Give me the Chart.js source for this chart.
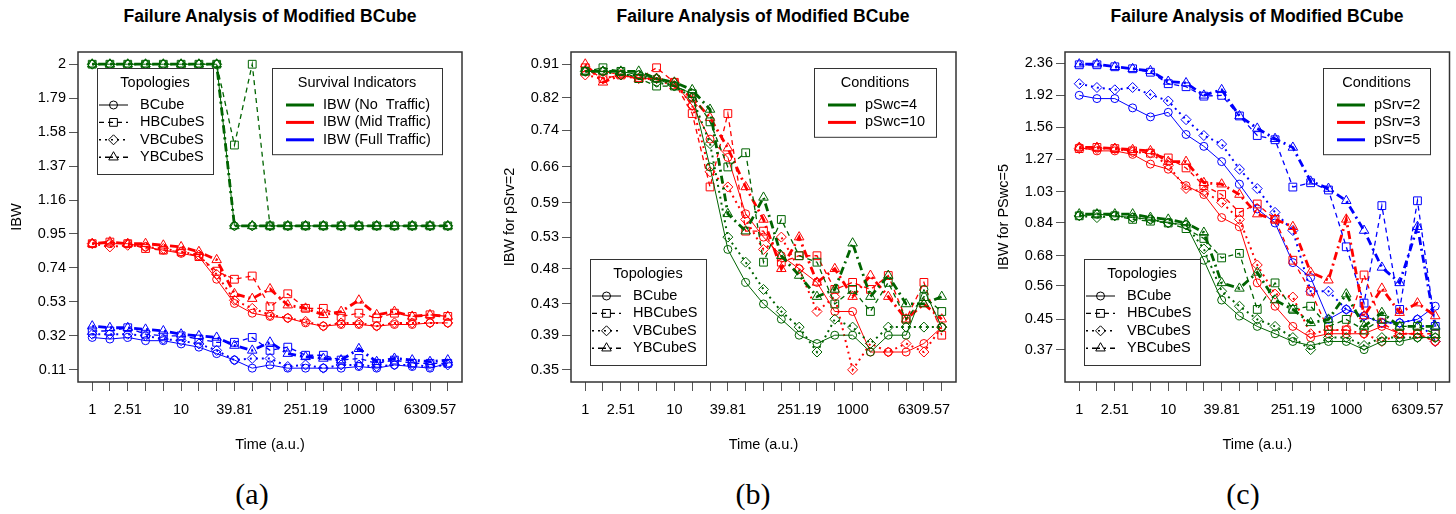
<!DOCTYPE html>
<html>
<head>
<meta charset="utf-8">
<script src="https://cdn.jsdelivr.net/npm/chart.js@4.4.1/dist/chart.umd.min.js"></script>
<style>
  body { margin: 0; background: #fff; width: 1456px; height: 514px; position: relative; overflow: hidden;
         font-family: Arial, "Liberation Sans", sans-serif; }
  canvas { position: absolute; top: 0; }
  .title { position: absolute; top: 6px; font-weight: bold; font-size: 17.5px; white-space: nowrap; transform: translateX(-50%); }
  .tag { position: absolute; top: 477px; font-family: "Liberation Serif", "Times New Roman", serif; font-size: 30px; transform: translateX(-50%); }
</style>
</head>
<body>
<div class="title" style="left:270px">Failure Analysis of Modified BCube</div>
<div class="title" style="left:763px">Failure Analysis of Modified BCube</div>
<div class="title" style="left:1257px">Failure Analysis of Modified BCube</div>
<canvas id="chartA" width="480" height="460" style="left:0px"></canvas>
<canvas id="chartB" width="481" height="460" style="left:493px"></canvas>
<canvas id="chartC" width="469" height="460" style="left:987px"></canvas>
<div class="tag" style="left:252px">(a)</div>
<div class="tag" style="left:753px">(b)</div>
<div class="tag" style="left:1243px">(c)</div>

<script>
// time axis (log scale), 21 sample points
const timePoints = [1, 1.58, 2.51, 3.98, 6.31, 10, 15.85, 25.12, 39.81, 63.1, 100, 158.49,
  251.19, 398.11, 630.96, 1000, 1584.89, 2511.89, 3981.07, 6309.57, 10000];
const timeTickLabels = ['1', '', '2.51', '', '', '10', '', '', '39.81', '', '', '',
  '251.19', '', '', '1000', '', '', '', '6309.57', ''];

const topologies = ['BCube', 'HBCubeS', 'VBCubeS', 'YBCubeS'];

// y ticks of each panel
const yTicksA = [0.11, 0.32, 0.53, 0.74, 0.95, 1.16, 1.37, 1.58, 1.79, 2];
const yTicksB = [0.35, 0.39, 0.43, 0.48, 0.53, 0.59, 0.66, 0.74, 0.82, 0.91];
const yTicksC = [0.37, 0.45, 0.56, 0.68, 0.84, 1.03, 1.27, 1.56, 1.92, 2.36];

// panel (a): rows = BCube, HBCubeS, VBCubeS, YBCubeS
const aNoTraffic = [
  [2, 2, 2, 2, 2, 2, 2, 2, 1, 1, 1, 1, 1, 1, 1, 1, 1, 1, 1, 1, 1],
  [2, 2, 2, 2, 2, 2, 2, 2, 1.5, 2, 1, 1, 1, 1, 1, 1, 1, 1, 1, 1, 1],
  [2, 2, 2, 2, 2, 2, 2, 2, 1, 1, 1, 1, 1, 1, 1, 1, 1, 1, 1, 1, 1],
  [2, 2, 2, 2, 2, 2, 2, 2, 1, 1, 1, 1, 1, 1, 1, 1, 1, 1, 1, 1, 1]
];
const aMidTraffic = [
  [0.89, 0.89, 0.89, 0.87, 0.85, 0.83, 0.81, 0.67, 0.52, 0.46, 0.44, 0.43, 0.40, 0.38, 0.39, 0.39, 0.38, 0.39, 0.39, 0.40, 0.40],
  [0.89, 0.90, 0.89, 0.86, 0.85, 0.84, 0.81, 0.72, 0.67, 0.69, 0.50, 0.58, 0.49, 0.49, 0.44, 0.46, 0.43, 0.46, 0.44, 0.45, 0.44],
  [0.89, 0.87, 0.88, 0.87, 0.86, 0.84, 0.82, 0.70, 0.54, 0.49, 0.45, 0.43, 0.41, 0.38, 0.40, 0.40, 0.38, 0.40, 0.40, 0.40, 0.40],
  [0.89, 0.90, 0.89, 0.89, 0.88, 0.87, 0.84, 0.79, 0.58, 0.55, 0.61, 0.51, 0.49, 0.45, 0.47, 0.54, 0.45, 0.47, 0.44, 0.45, 0.44]
];
const aFullTraffic = [
  [0.31, 0.30, 0.31, 0.29, 0.29, 0.27, 0.25, 0.21, 0.17, 0.12, 0.14, 0.12, 0.12, 0.12, 0.12, 0.13, 0.12, 0.14, 0.13, 0.12, 0.15],
  [0.35, 0.35, 0.37, 0.33, 0.32, 0.32, 0.30, 0.28, 0.28, 0.31, 0.23, 0.25, 0.20, 0.20, 0.17, 0.18, 0.15, 0.17, 0.15, 0.15, 0.15],
  [0.33, 0.33, 0.33, 0.32, 0.30, 0.29, 0.27, 0.23, 0.17, 0.18, 0.18, 0.13, 0.14, 0.12, 0.14, 0.14, 0.13, 0.14, 0.14, 0.13, 0.14],
  [0.38, 0.37, 0.37, 0.36, 0.35, 0.33, 0.32, 0.31, 0.26, 0.23, 0.28, 0.21, 0.19, 0.18, 0.17, 0.24, 0.16, 0.18, 0.17, 0.16, 0.17]
];

// panel (b): IBW for pSrv=2
const bSwc4 = [
  [0.89, 0.89, 0.89, 0.88, 0.87, 0.85, 0.83, 0.66, 0.51, 0.46, 0.43, 0.41, 0.39, 0.38, 0.39, 0.39, 0.37, 0.39, 0.39, 0.45, 0.40],
  [0.89, 0.90, 0.89, 0.87, 0.85, 0.85, 0.83, 0.76, 0.66, 0.69, 0.49, 0.56, 0.50, 0.49, 0.43, 0.45, 0.42, 0.46, 0.41, 0.44, 0.42],
  [0.89, 0.89, 0.88, 0.88, 0.86, 0.85, 0.82, 0.71, 0.53, 0.49, 0.45, 0.42, 0.40, 0.37, 0.41, 0.40, 0.38, 0.40, 0.40, 0.40, 0.40],
  [0.89, 0.89, 0.89, 0.89, 0.87, 0.86, 0.84, 0.79, 0.57, 0.54, 0.60, 0.50, 0.47, 0.44, 0.45, 0.52, 0.44, 0.47, 0.43, 0.43, 0.44]
];
const bSwc10 = [
  [0.89, 0.89, 0.88, 0.87, 0.87, 0.86, 0.80, 0.72, 0.68, 0.57, 0.53, 0.50, 0.48, 0.46, 0.42, 0.42, 0.37, 0.37, 0.37, 0.38, 0.40],
  [0.90, 0.87, 0.88, 0.87, 0.90, 0.86, 0.78, 0.62, 0.78, 0.54, 0.54, 0.49, 0.50, 0.50, 0.45, 0.46, 0.45, 0.47, 0.41, 0.46, 0.39],
  [0.88, 0.87, 0.88, 0.87, 0.87, 0.86, 0.80, 0.65, 0.62, 0.56, 0.51, 0.53, 0.48, 0.42, 0.44, 0.35, 0.38, 0.37, 0.38, 0.37, 0.40],
  [0.91, 0.86, 0.88, 0.87, 0.87, 0.85, 0.82, 0.77, 0.70, 0.62, 0.56, 0.48, 0.53, 0.46, 0.48, 0.44, 0.47, 0.44, 0.41, 0.43, 0.41]
];

// panel (c): IBW for PSwc=5
const cSrv2 = [
  [0.88, 0.89, 0.88, 0.87, 0.86, 0.84, 0.83, 0.66, 0.51, 0.46, 0.43, 0.41, 0.39, 0.38, 0.39, 0.39, 0.37, 0.39, 0.39, 0.40, 0.40],
  [0.88, 0.89, 0.88, 0.86, 0.85, 0.84, 0.81, 0.76, 0.67, 0.69, 0.48, 0.57, 0.48, 0.49, 0.43, 0.45, 0.42, 0.45, 0.43, 0.43, 0.41],
  [0.88, 0.87, 0.88, 0.87, 0.86, 0.84, 0.83, 0.71, 0.54, 0.49, 0.45, 0.43, 0.40, 0.37, 0.40, 0.40, 0.38, 0.40, 0.40, 0.40, 0.40],
  [0.89, 0.89, 0.89, 0.89, 0.87, 0.86, 0.84, 0.79, 0.57, 0.55, 0.61, 0.51, 0.48, 0.44, 0.45, 0.53, 0.43, 0.47, 0.43, 0.43, 0.43]
];
const cSrv3 = [
  [1.37, 1.34, 1.34, 1.31, 1.23, 1.19, 1.07, 1.01, 0.87, 0.82, 0.57, 0.49, 0.43, 0.40, 0.41, 0.41, 0.41, 0.43, 0.41, 0.41, 0.39],
  [1.36, 1.37, 1.36, 1.34, 1.32, 1.28, 1.20, 1.07, 1.01, 0.90, 0.95, 0.86, 0.66, 0.54, 0.42, 0.42, 0.60, 0.44, 0.41, 0.41, 0.41],
  [1.36, 1.36, 1.36, 1.33, 1.32, 1.22, 1.05, 1.03, 0.96, 0.86, 0.64, 0.53, 0.52, 0.41, 0.42, 0.42, 0.41, 0.39, 0.41, 0.41, 0.39],
  [1.37, 1.37, 1.36, 1.35, 1.34, 1.25, 1.25, 1.09, 1.08, 1.01, 0.89, 0.86, 0.82, 0.61, 0.58, 0.86, 0.46, 0.55, 0.47, 0.50, 0.46]
];
const cSrv5 = [
  [1.92, 1.88, 1.88, 1.77, 1.67, 1.72, 1.49, 1.38, 1.25, 1.08, 0.92, 0.84, 0.65, 0.59, 0.45, 0.48, 0.46, 0.44, 0.44, 0.45, 0.49],
  [2.34, 2.34, 2.31, 2.28, 2.23, 2.07, 2.03, 1.91, 1.92, 1.68, 1.48, 1.44, 1.06, 1.09, 1.04, 0.72, 0.50, 0.94, 0.48, 0.97, 0.43],
  [2.07, 2.02, 1.99, 2.02, 1.93, 1.85, 1.64, 1.48, 1.40, 1.19, 1.05, 0.90, 0.80, 0.54, 0.54, 0.48, 0.46, 0.44, 0.44, 0.45, 0.39],
  [2.35, 2.35, 2.31, 2.28, 2.25, 2.10, 2.08, 1.92, 1.99, 1.68, 1.55, 1.45, 1.37, 1.10, 1.05, 0.97, 0.80, 0.63, 0.57, 0.82, 0.43]
];

const GREEN = '#006400', RED = '#ff0000', BLUE = '#0000ff';

// line look of each topology (R lty 1..4)
const topoStyle = [
  { width: 1,   dash: [],           point: 'circle',   radius: 4 },
  { width: 1.3, dash: [5, 4],       point: 'rect',     radius: 5.5 },
  { width: 2,   dash: [2, 4],       point: 'rectRot',  radius: 5 },
  { width: 2.8, dash: [2, 4, 8, 4], point: 'triangle', radius: 5.5 }
];

function makeDatasets(rows, color) {
  return rows.map((vals, t) => {
    const st = topoStyle[t];
    return {
      label: topologies[t],
      data: vals.map((v, i) => ({ x: timePoints[i], y: v })),
      borderColor: color,
      borderWidth: st.width,
      borderDash: st.dash,
      pointStyle: st.point,
      pointRadius: st.radius,
      pointBorderColor: color,
      pointBorderWidth: 1,
      pointBackgroundColor: 'rgba(0,0,0,0)',
      fill: false,
      tension: 0
    };
  });
}

// box round the plot region
const framePlugin = {
  id: 'frame',
  afterDatasetsDraw(chart) {
    const { ctx, chartArea: a } = chart;
    ctx.save();
    ctx.strokeStyle = '#333';
    ctx.lineWidth = 1.5;
    ctx.strokeRect(a.left, a.top, a.right - a.left, a.bottom - a.top);
    ctx.restore();
  }
};

// R style legend boxes
const boxLegendPlugin = {
  id: 'boxLegends',
  afterDraw(chart, args, opts) {
    const ctx = chart.ctx;
    const off = opts.offset || 0;
    (opts.boxes || []).forEach(b => {
      const x = b.x - off;
      ctx.save();
      ctx.fillStyle = '#fff';
      ctx.fillRect(x, b.y, b.w, b.h);
      ctx.strokeStyle = '#333';
      ctx.lineWidth = 1;
      ctx.strokeRect(x + 0.5, b.y + 0.5, b.w, b.h);
      ctx.fillStyle = '#000';
      ctx.font = '14.5px Arial, "Liberation Sans", sans-serif';
      ctx.textBaseline = 'middle';
      ctx.textAlign = 'center';
      ctx.fillText(b.title, x + b.w / 2, b.y + 15);
      b.items.forEach((it, i) => {
        const y = b.y + 37 + i * 17.4;
        ctx.save();
        ctx.strokeStyle = it.color;
        ctx.lineWidth = it.width;
        ctx.setLineDash(it.dash || []);
        ctx.beginPath();
        ctx.moveTo(x + b.line0, y);
        ctx.lineTo(x + b.line1, y);
        ctx.stroke();
        ctx.restore();
        if (it.point) {
          ctx.save();
          ctx.fillStyle = 'rgba(0,0,0,0)';
          ctx.strokeStyle = it.color;
          ctx.lineWidth = 1;
          ctx.setLineDash([]);
          Chart.helpers.drawPoint(ctx, { pointStyle: it.point, radius: it.radius, borderWidth: 1 },
            x + (b.line0 + b.line1) / 2, y);
          ctx.restore();
        }
        ctx.fillStyle = '#000';
        ctx.textAlign = 'left';
        ctx.fillText(it.label, x + b.text, y);
      });
      ctx.restore();
    });
  }
};

function topologyBox(x, y) {
  return {
    x: x, y: y, w: 116, h: 106, title: 'Topologies', line0: 2, line1: 31, text: 43,
    items: topologies.map((name, t) => ({
      label: name, color: '#000', width: Math.min(topoStyle[t].width, 1.6), dash: topoStyle[t].dash,
      point: topoStyle[t].point, radius: topoStyle[t].radius
    }))
  };
}

function conditionBox(x, y, w, title, labels, colors) {
  return {
    x: x, y: y, w: w, h: 20 + labels.length * 17.4 + 14, title: title, line0: 14, line1: 42, text: 51,
    items: labels.map((l, i) => ({ label: l, color: colors[i], width: 3, dash: [] }))
  };
}

function makeChart(id, offset, rightPad, datasets, yType, yRange, yTicks, yTitle, boxes) {
  return new Chart(document.getElementById(id), {
    type: 'line',
    data: { datasets: datasets },
    options: {
      responsive: false,
      animation: false,
      devicePixelRatio: 1,
      layout: { padding: { left: 0, right: rightPad, top: 52, bottom: 0 } },
      plugins: {
        legend: { display: false },
        tooltip: { enabled: false },
        boxLegends: { offset: offset, boxes: boxes }
      },
      scales: {
        x: {
          type: 'logarithmic',
          min: 0.6918, max: 14454,
          afterBuildTicks: s => { s.ticks = timePoints.map(v => ({ value: v })); },
          afterFit: s => { s.height = 78; },
          ticks: {
            autoSkip: false, maxRotation: 0, minRotation: 0, padding: 10, color: '#000',
            font: { family: 'Arial, "Liberation Sans", sans-serif', size: 14.5 },
            callback: (v, i) => timeTickLabels[i]
          },
          grid: { drawOnChartArea: false, drawTicks: true, tickLength: 9, tickColor: '#555', lineWidth: 1 },
          border: { display: false },
          title: {
            display: true, text: 'Time (a.u.)', color: '#000',
            font: { family: 'Arial, "Liberation Sans", sans-serif', size: 14.5 },
            padding: { top: 0, bottom: 6 }
          }
        },
        y: {
          type: yType,
          min: yRange[0], max: yRange[1],
          afterBuildTicks: s => { s.ticks = yTicks.map(v => ({ value: v })); },
          afterFit: s => { s.width = 78; },
          ticks: {
            padding: 3, color: '#000',
            font: { family: 'Arial, "Liberation Sans", sans-serif', size: 14.5 },
            callback: (v, i) => String(yTicks[i])
          },
          grid: { drawOnChartArea: false, drawTicks: true, tickLength: 9, tickColor: '#555', lineWidth: 1 },
          border: { display: false },
          title: {
            display: true, text: yTitle, color: '#000',
            font: { family: 'Arial, "Liberation Sans", sans-serif', size: 14.5 },
            padding: { top: 8, bottom: 0 }
          }
        }
      }
    },
    plugins: [framePlugin, boxLegendPlugin]
  });
}

makeChart('chartA', 0, 18,
  [...makeDatasets(aNoTraffic, GREEN), ...makeDatasets(aMidTraffic, RED), ...makeDatasets(aFullTraffic, BLUE)],
  'linear', [0.0344, 2.0756], yTicksA, 'IBW',
  [topologyBox(97, 68),
   conditionBox(272, 68, 170, 'Survival Indicators',
     ['IBW (No  Traffic)', 'IBW (Mid Traffic)', 'IBW (Full Traffic)'], [GREEN, RED, BLUE])]);

makeChart('chartB', 493, 18,
  [...makeDatasets(bSwc4, GREEN), ...makeDatasets(bSwc10, RED)],
  'logarithmic', [0.3369, 0.9455], yTicksB, 'IBW for pSrv=2',
  [topologyBox(590, 259),
   conditionBox(814, 68, 122, 'Conditions', ['pSwc=4', 'pSwc=10'], [GREEN, RED])]);

makeChart('chartC', 987, 6,
  [...makeDatasets(cSrv2, GREEN), ...makeDatasets(cSrv3, RED), ...makeDatasets(cSrv5, BLUE)],
  'logarithmic', [0.3436, 2.542], yTicksC, 'IBW for PSwc=5',
  [topologyBox(1084, 259),
   conditionBox(1323, 68, 107, 'Conditions', ['pSrv=2', 'pSrv=3', 'pSrv=5'], [GREEN, RED, BLUE])]);
</script>
</body>
</html>
